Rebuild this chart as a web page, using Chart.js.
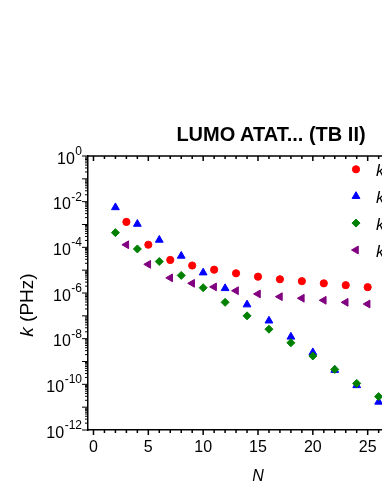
<!DOCTYPE html>
<html lang="en">
<head>
<meta charset="UTF-8">
<title>LUMO ATAT... (TB II)</title>
<style>
    html, body { margin: 0; padding: 0; background: #fff; overflow: hidden; }
    #wrap { position: relative; width: 440px; height: 494px; }
    #title {
        position: absolute; left: 271px; top: 123px; transform: translateX(-50%);
        white-space: nowrap; font: bold 20px "Liberation Sans", Arial, sans-serif; color: #000;
    }
</style>
</head>
<body>
<div id="wrap">
    <div id="title">LUMO ATAT... (TB II)</div>
    <canvas id="chart" width="440" height="494"></canvas>
</div>
<script src="https://cdn.jsdelivr.net/npm/chart.js"></script>
<script>
// N values (even series / odd series)
const nEven = [2, 4, 6, 8, 10, 12, 14, 16, 18, 20, 22, 24, 26];
const nOdd = [3, 5, 7, 9, 11, 13, 15, 17, 19, 21, 23, 25];

// rates k (PHz)
const kRed = [1.3e-3, 1.3e-4, 2.8e-5, 1.6e-5, 1.05e-5, 7.3e-6, 5.2e-6, 4.0e-6, 3.3e-6, 2.65e-6, 2.2e-6, 1.8e-6];
const kBlue = [5.6e-3, 1.05e-3, 2.1e-4, 4.2e-5, 7.8e-6, 1.6e-6, 3.1e-7, 6.1e-8, 1.2e-8, 2.5e-9, 4.2e-10, 9e-11, 1.7e-11];
const kGreen = [4.4e-4, 8.5e-5, 2.4e-5, 5.9e-6, 1.7e-6, 3.9e-7, 1.0e-7, 2.6e-8, 6.6e-9, 1.74e-9, 4.5e-10, 1.1e-10, 2.9e-11];
const kPurple = [1.3e-4, 1.8e-5, 4.6e-6, 2.65e-6, 1.85e-6, 1.26e-6, 9.1e-7, 6.9e-7, 5.9e-7, 4.8e-7, 3.9e-7, 3.3e-7];

const seriesLabels = ['k1', 'k2', 'k3', 'k4'];
const xTicks = [0, 5, 10, 15, 20, 25, 30];
const yExponents = [0, -2, -4, -6, -8, -10, -12];

const fam = '"Liberation Sans", Arial, sans-serif';

function pts(xs, ys) {
    return xs.map((x, i) => ({ x: x, y: ys[i] }));
}

// frame, minor ticks, y labels, y title and the legend inside the plot
const extras = {
    id: 'extras',
    afterDraw(chart) {
        const ctx = chart.ctx;
        const a = chart.chartArea;
        const x = chart.scales.x, y = chart.scales.y;
        ctx.save();
        ctx.strokeStyle = '#000';
        ctx.lineWidth = 1.5;
        ctx.beginPath();
        ctx.moveTo(a.left, a.top);
        ctx.lineTo(a.right + 2, a.top);
        for (let n = 0; n <= 30; n++) {
            const px = x.getPixelForValue(n);
            const len = n % 5 === 0 ? 5 : 3;
            ctx.moveTo(px, a.bottom); ctx.lineTo(px, a.bottom + len);
            ctx.moveTo(px, a.top); ctx.lineTo(px, a.top + len);
        }
        ctx.stroke();
        ctx.lineWidth = 1;
        ctx.beginPath();
        for (let e = -12; e <= 0; e++) {
            for (let m = 1; m <= 9; m++) {
                if (e === 0 && m > 1) break;
                const py = y.getPixelForValue(m * Math.pow(10, e));
                const len = m === 1 ? 6 : 3;
                ctx.moveTo(a.left, py); ctx.lineTo(a.left - len, py);
            }
        }
        ctx.stroke();

        // y tick labels with superscripts
        ctx.fillStyle = '#000';
        ctx.textBaseline = 'alphabetic';
        ctx.textAlign = 'left';
        yExponents.forEach(e => {
            const py = y.getPixelForValue(Math.pow(10, e));
            const sup = String(e);
            ctx.font = '16px ' + fam;
            const w1 = ctx.measureText('10').width;
            ctx.font = '12px ' + fam;
            const w2 = ctx.measureText(sup).width;
            const x0 = a.left - 6.5 - w1 - w2;
            ctx.font = '16px ' + fam;
            ctx.fillText('10', x0, py + 7.5);
            ctx.font = '12px ' + fam;
            ctx.fillText(sup, x0 + w1 + 0.5, py - 1);
        });

        // y axis title: italic k + (PHz)
        ctx.save();
        ctx.translate(33, (a.top + a.bottom) / 2 + 12);
        ctx.rotate(-Math.PI / 2);
        ctx.font = 'italic 19px ' + fam;
        const wk = ctx.measureText('k').width;
        ctx.font = '19px ' + fam;
        const wr = ctx.measureText(' (PHz)').width;
        let tx = -(wk + wr) / 2;
        ctx.font = 'italic 19px ' + fam;
        ctx.fillText('k', tx, 0);
        ctx.font = '19px ' + fam;
        ctx.fillText(' (PHz)', tx + wk, 0);
        ctx.restore();

        // legend
        chart.data.datasets.forEach((ds, i) => {
            const lx = a.left + 268;
            const ly = a.top + 13.3 + i * 26.9;
            ctx.fillStyle = ds.backgroundColor;
            ctx.strokeStyle = ds.borderColor;
            ctx.lineWidth = 1;
            Chart.helpers.drawPoint(ctx, {
                pointStyle: ds.pointStyle, rotation: ds.pointRotation || 0,
                radius: ds.pointRadius, borderWidth: 1
            }, lx, ly);
            ctx.fillStyle = '#000';
            ctx.font = 'italic 17px ' + fam;
            ctx.fillText(ds.label.charAt(0), lx + 20, ly + 7);
            const wk2 = ctx.measureText(ds.label.charAt(0)).width;
            ctx.font = '12px ' + fam;
            ctx.fillText(ds.label.slice(1), lx + 20 + wk2 + 1, ly + 11);
        });
        ctx.restore();
    }
};

new Chart(document.getElementById('chart'), {
    type: 'scatter',
    data: {
        datasets: [
            { label: seriesLabels[0], data: pts(nOdd, kRed), backgroundColor: '#ff0000', borderColor: '#ff0000',
              pointStyle: 'circle', pointRadius: 3.6, borderWidth: 1, order: 0 },
            { label: seriesLabels[1], data: pts(nEven, kBlue), backgroundColor: '#0000ff', borderColor: '#0000ff',
              pointStyle: 'triangle', pointRadius: 4.5, borderWidth: 1, order: 1 },
            { label: seriesLabels[2], data: pts(nEven, kGreen), backgroundColor: '#008000', borderColor: '#008000',
              pointStyle: 'rectRot', pointRadius: 4, borderWidth: 1, order: 0 },
            { label: seriesLabels[3], data: pts(nOdd, kPurple), backgroundColor: '#800080', borderColor: '#800080',
              pointStyle: 'triangle', pointRotation: 270, pointRadius: 4.5, borderWidth: 1, order: 1 }
        ]
    },
    options: {
        responsive: false,
        animation: false,
        events: [],
        layout: { padding: { left: 0, right: 12, top: 156, bottom: 0 } },
        plugins: { legend: { display: false }, tooltip: { enabled: false } },
        scales: {
            x: {
                type: 'linear', min: -0.5, max: 30.5,
                grid: { display: false, drawTicks: false },
                border: { display: true, color: '#000', width: 1.5 },
                afterBuildTicks: s => { s.ticks = xTicks.map(v => ({ value: v })); },
                afterFit: s => { s.height = 64; },
                ticks: { color: '#000', font: { family: fam, size: 16 }, padding: 8, maxRotation: 0 },
                title: { display: true, text: 'N', color: '#000',
                         font: { family: fam, size: 16, style: 'italic' }, padding: { top: 0, bottom: 8 } }
            },
            y: {
                type: 'logarithmic', min: 1e-12, max: 1,
                grid: { display: false, drawTicks: false },
                border: { display: true, color: '#000', width: 1.5 },
                afterBuildTicks: s => { s.ticks = yExponents.map(e => ({ value: Math.pow(10, e) })); },
                afterFit: s => { s.width = 88; },
                ticks: { display: false }
            }
        }
    },
    plugins: [extras]
});
</script>
</body>
</html>
